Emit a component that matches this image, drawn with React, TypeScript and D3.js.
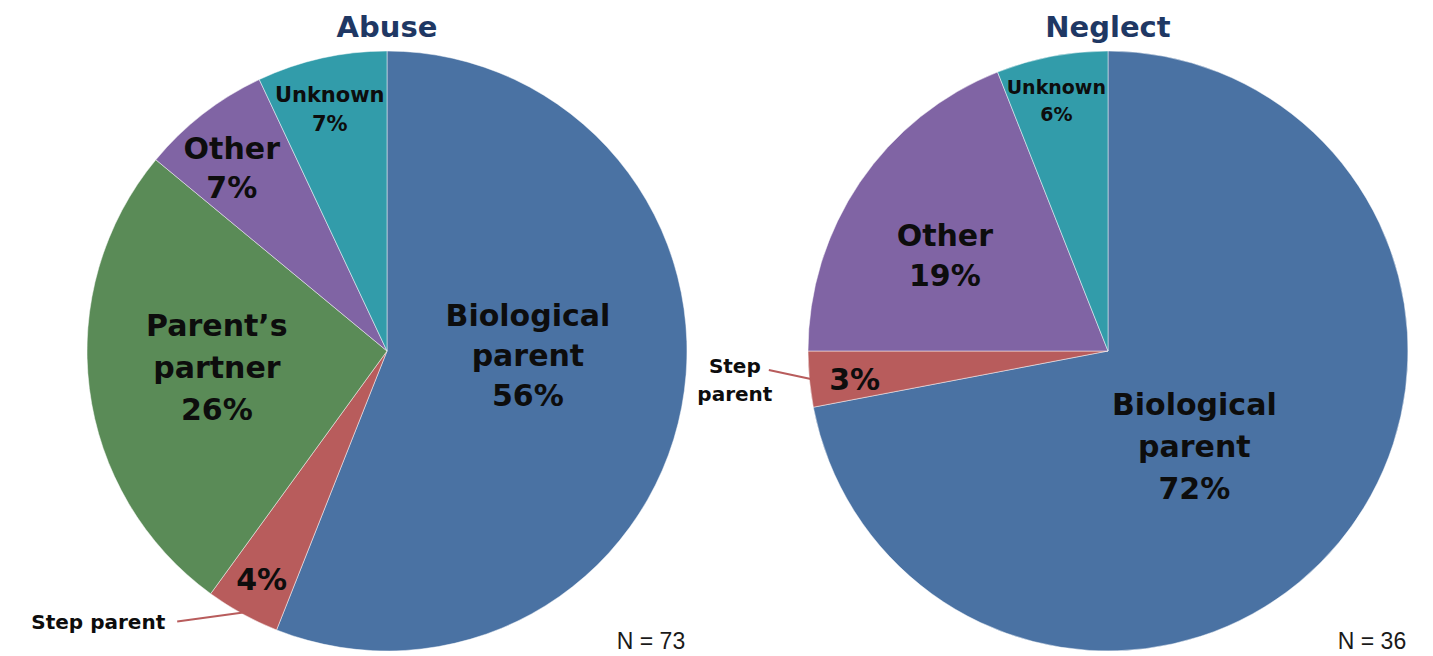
import React, { useEffect, useRef } from 'react';
import * as d3 from 'd3';

// Abuse pie
const abuseLabels = ['Biological parent', 'Step parent', 'Parent\u2019s partner', 'Other', 'Unknown'];
const abuseValues = [56, 4, 26, 7, 7];
const abuseN = 73;

// Neglect pie
const neglectLabels = ['Biological parent', 'Step parent', 'Other', 'Unknown'];
const neglectValues = [72, 3, 19, 6];
const neglectN = 36;

const colorMap: Record<string, string> = {
  'Biological parent': '#4A72A3',
  'Step parent': '#B85C5C',
  'Parent\u2019s partner': '#5A8B57',
  Other: '#8064A4',
  Unknown: '#329CAA',
};

interface LabelLayout {
  angle: number; // degrees clockwise from 12 o'clock
  r: number; // fraction of radius
  size: number;
  lines: string[];
  lineGap: number;
  outside?: { text: string[]; dx: number; dy: number; anchor: string };
}

const abuseLayout: LabelLayout[] = [
  { angle: 92, r: 0.47, size: 30, lines: ['Biological', 'parent'], lineGap: 40 },
  { angle: 208.7, r: 0.87, size: 30, lines: [], lineGap: 40, outside: { text: ['Step parent'], dx: -66, dy: 9, anchor: 'end' } },
  { angle: 264.3, r: 0.57, size: 30, lines: ['Parent\u2019s', 'partner'], lineGap: 42 },
  { angle: 319.7, r: 0.8, size: 30, lines: ['Other'], lineGap: 39 },
  { angle: 346.7, r: 0.83, size: 21, lines: ['Unknown'], lineGap: 29 },
];

const neglectLayout: LabelLayout[] = [
  { angle: 138, r: 0.43, size: 30, lines: ['Biological', 'parent'], lineGap: 42 },
  { angle: 263.5, r: 0.85, size: 30, lines: [], lineGap: 40, outside: { text: ['Step', 'parent'], dx: -42, dy: -9, anchor: 'middle' } },
  { angle: 300.3, r: 0.63, size: 30, lines: ['Other'], lineGap: 40 },
  { angle: 348.3, r: 0.85, size: 19, lines: ['Unknown'], lineGap: 27 },
];

const FONT = '"DejaVu Sans", sans-serif';

function drawPie(
  g: d3.Selection<SVGGElement, unknown, null, undefined>,
  title: string,
  labels: string[],
  values: number[],
  n: number,
  layout: LabelLayout[],
  radius: number,
) {
  const pie = d3.pie<number>().sort(null).value((d) => d);
  const arcs = pie(values);
  const arc = d3.arc<d3.PieArcDatum<number>>().innerRadius(0).outerRadius(radius);

  g.selectAll('path.slice')
    .data(arcs)
    .join('path')
    .attr('class', 'slice')
    .attr('d', arc)
    .attr('fill', (_, i) => colorMap[labels[i]])
    .attr('stroke', '#ffffff')
    .attr('stroke-opacity', 0.6)
    .attr('stroke-width', 0.8);

  const toXY = (deg: number, r: number): [number, number] => {
    const a = (deg * Math.PI) / 180;
    return [r * Math.sin(a), -r * Math.cos(a)];
  };

  arcs.forEach((a, i) => {
    const lay = layout[i];
    const [x, y] = toXY(lay.angle, lay.r * radius);
    const all = [...lay.lines, `${values[i]}%`];
    const total = (all.length - 1) * lay.lineGap;
    const t = g
      .append('text')
      .attr('text-anchor', 'middle')
      .attr('font-family', FONT)
      .attr('font-weight', 'bold')
      .attr('font-size', lay.size)
      .attr('fill', '#0d0d0d');
    all.forEach((ln, k) => {
      t.append('tspan')
        .attr('x', x)
        .attr('y', y - total / 2 + k * lay.lineGap)
        .attr('dy', '0.35em')
        .text(ln);
    });

    if (lay.outside) {
      const mid = ((a.startAngle + a.endAngle) / 2) * (180 / Math.PI);
      const [sx, sy] = toXY(mid, radius * 0.995);
      const ex = sx + lay.outside.dx;
      const ey = sy + lay.outside.dy;
      g.append('line')
        .attr('x1', sx)
        .attr('y1', sy)
        .attr('x2', ex)
        .attr('y2', ey)
        .attr('stroke', colorMap[labels[i]])
        .attr('stroke-width', 2);
      const ot = g
        .append('text')
        .attr('text-anchor', lay.outside.anchor)
        .attr('font-family', FONT)
        .attr('font-weight', 'bold')
        .attr('font-size', 20)
        .attr('fill', '#0d0d0d');
      const lines = lay.outside.text;
      if (lines.length === 1) {
        ot.append('tspan').attr('x', ex - 12).attr('y', ey).attr('dy', '0.35em').text(lines[0]);
      } else {
        lines.forEach((ln, k) => {
          ot.append('tspan')
            .attr('x', ex - 34)
            .attr('y', ey - 4 + k * 28)
            .attr('dy', '0.35em')
            .text(ln);
        });
      }
    }
  });

  g.append('text')
    .attr('x', 0)
    .attr('y', -radius - 14)
    .attr('text-anchor', 'middle')
    .attr('font-family', FONT)
    .attr('font-weight', 'bold')
    .attr('font-size', 29)
    .attr('fill', '#1F3864')
    .text(title);

  g.append('text')
    .attr('x', radius - 36)
    .attr('y', radius - 2)
    .attr('text-anchor', 'middle')
    .attr('font-family', '"Liberation Sans", Arial, sans-serif')
    .attr('font-size', 23)
    .attr('fill', '#1a1a1a')
    .text(`N = ${n}`);
}

export default function App() {
  const ref = useRef<SVGSVGElement>(null);
  const width = 1433;
  const height = 656;

  useEffect(() => {
    if (!ref.current) return;
    const svg = d3.select(ref.current);
    svg.selectAll('*').remove();
    svg.append('rect').attr('width', width).attr('height', height).attr('fill', '#ffffff');
    const radius = 300;
    const x = d3.scalePoint<string>().domain(['Abuse', 'Neglect']).range([387, 1108]);
    const cy = 351;
    const g1 = svg.append('g').attr('transform', `translate(${x('Abuse')},${cy})`);
    drawPie(g1, 'Abuse', abuseLabels, abuseValues, abuseN, abuseLayout, radius);
    const g2 = svg.append('g').attr('transform', `translate(${x('Neglect')},${cy})`);
    drawPie(g2, 'Neglect', neglectLabels, neglectValues, neglectN, neglectLayout, radius);
  }, []);

  return (
    <svg
      ref={ref}
      width={width}
      height={height}
      style={{ position: 'absolute', left: 0, top: 0, display: 'block' }}
    />
  );
}
